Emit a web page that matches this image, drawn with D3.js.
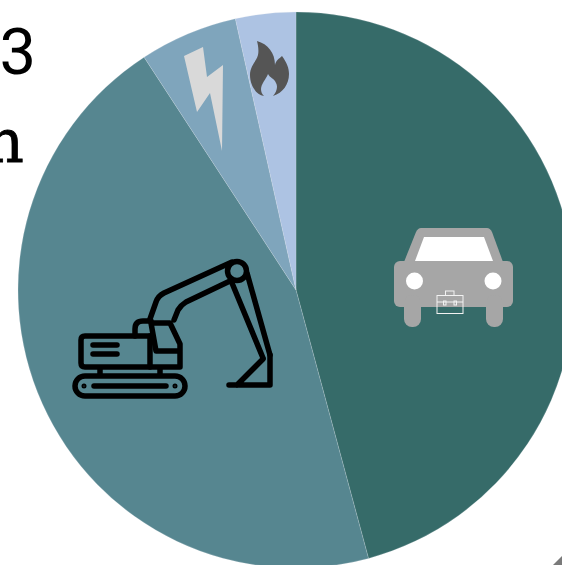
<!DOCTYPE html>
<html>
<head>
<meta charset="utf-8">
<script src="https://d3js.org/d3.v7.min.js"></script>
<style>
html, body { margin: 0; padding: 0; background: #fff; overflow: hidden; }
svg { display: block; }
</style>
</head>
<body>
<div id="chart"></div>
<script>
// values, in percent
var categories = ["Cars", "Machinery", "Electricity", "Gas"];
var shares = [45.8, 45.0, 5.7, 3.5];
var colors = ["#366b69", "#568690", "#7fa5bc", "#adc3e3"];
var textLines = ["3", "n"];

var w = 562, h = 565;
var cx = 296, cy = 290, radius = 278;

var svg = d3.select("#chart").append("svg")
    .attr("width", w)
    .attr("height", h);

// clipped text on the left edge
svg.selectAll("text.clip")
    .data(textLines)
    .enter()
    .append("text")
        .attr("class", "clip")
        .attr("text-anchor", "end")
        .attr("x", function(d, i) { return i === 0 ? 36 : 24; })
        .attr("y", function(d, i) { return i === 0 ? 74 : 162; })
        .attr("font-family", function(d, i) { return i === 0 ? "Roboto" : "DejaVu Serif"; })
        .attr("font-size", function(d, i) { return i === 0 ? 65 : 60; })
        .attr("fill", "#000")
        .attr("stroke", "#000")
        .attr("stroke-width", function(d, i) { return i === 0 ? 0 : 0.8; })
        .text(function(d) { return d; });

//////////////////////
// Pie
//////////////////////
var pie = d3.pie().sort(null);
var arc = d3.arc().innerRadius(0).outerRadius(radius);

svg.append("g")
    .attr("transform", "translate(" + cx + "," + cy + ")")
    .selectAll("path")
    .data(pie(shares))
    .enter()
    .append("path")
        .attr("d", arc)
        .attr("data-name", function(d, i) { return categories[i]; })
        .attr("fill", function(d, i) { return colors[i]; })
        .attr("stroke", "#dfe8ec")
        .attr("stroke-opacity", 0.4)
        .attr("stroke-width", 0.5);

//////////////////////
// Icons
//////////////////////
var icons = svg.append("g");

// car
var car = icons.append("g").attr("fill", "#a6a6a6");
car.append("path").attr("d", "M421,228 Q418,228 416,232 L404,262 L503,262 L492,232 Q490,228 487,228 Z");
car.append("rect").attr("x", 394).attr("y", 261).attr("width", 119).attr("height", 46).attr("rx", 6);
car.append("rect").attr("x", 404).attr("y", 295).attr("width", 17).attr("height", 32).attr("rx", 8);
car.append("rect").attr("x", 486).attr("y", 295).attr("width", 17).attr("height", 32).attr("rx", 8);
car.append("path").attr("d", "M424,237 L484,237 L493,261 L415,261 Z").attr("fill", "#fff");
car.append("circle").attr("cx", 414.5).attr("cy", 281).attr("r", 8.5).attr("fill", "#fff");
car.append("circle").attr("cx", 493).attr("cy", 281).attr("r", 8.5).attr("fill", "#fff");

// briefcase on the car
var brief = icons.append("g")
    .attr("fill", "none")
    .attr("stroke", "#f2f2f2")
    .attr("stroke-width", 1);
brief.append("rect").attr("x", 437).attr("y", 295.5).attr("width", 26).attr("height", 18);
brief.append("rect").attr("x", 445.5).attr("y", 291).attr("width", 8.5).attr("height", 4.5);
brief.append("path").attr("d", "M437,302 H463");
brief.append("rect").attr("x", 443.5).attr("y", 301).attr("width", 2.5).attr("height", 4);
brief.append("rect").attr("x", 454).attr("y", 301).attr("width", 2.5).attr("height", 4);

// excavator
var digger = icons.append("g")
    .attr("fill", "none")
    .attr("stroke", "#000")
    .attr("stroke-width", 5.5)
    .attr("stroke-linecap", "round")
    .attr("stroke-linejoin", "round");
digger.append("path").attr("d", "M150,336 H85 Q81,336 81,340 V363 Q81,367 85,367 H180 V344 L170,323 H151 L156,351 H180");
digger.append("path").attr("d", "M150,336 V367");
digger.append("path").attr("d", "M135,336 V329 Q135,321 143,321 H151");
digger.append("path").attr("d", "M93,345 H117 M93,354 H117");
digger.append("path").attr("d", "M100,368 V375 M160,368 V375");
digger.append("rect").attr("x", 75).attr("y", 376).attr("width", 110).attr("height", 20).attr("rx", 10);
digger.append("path").attr("d", "M94,386 H166");
digger.append("circle").attr("cx", 84).attr("cy", 386).attr("r", 1.5).attr("stroke-width", 2);
digger.append("circle").attr("cx", 175).attr("cy", 386).attr("r", 1.5).attr("stroke-width", 2);
digger.append("path").attr("d", "M150,319 L156,302 Q158,296 164,293 L232,262");
digger.append("path").attr("d", "M174,320 L178,310 Q181,305 186,302 L230,281");
digger.append("circle").attr("cx", 237).attr("cy", 271).attr("r", 9.5);
digger.append("path").attr("d", "M232,283 L263,358 M247,273 L270,355");
digger.append("path").attr("d", "M270,355 V385 H229 M263,359 L237,385");

// bolt
icons.append("path")
    .attr("d", "M184,56 L203,47 L207,77 L223,65 L222,151 L210,93 L197,112 Z")
    .attr("fill", "#d9d9d9");

// flame, hole is open at the bottom
icons.append("path")
    .attr("d", "M257,41 C268,44 275,53 275,65 C276,60 279,59 282,56 C287,63 289,68 289,74 C289,84 283,93 273,96 C277,92 278,86 276,83 C274,78 270,78 268,74 C266,79 261,84 261,89 C261,92 262,94 264,96 C256,95 250,85 250,75 C250,66 256,62 258,55 C259,50 258,45 257,41 Z")
    .attr("fill", "#555555");

// corner of something outside the crop
svg.append("path")
    .attr("d", "M553,565 L562,556 L562,565 Z")
    .attr("fill", "#7a7a7a");
</script>
</body>
</html>
